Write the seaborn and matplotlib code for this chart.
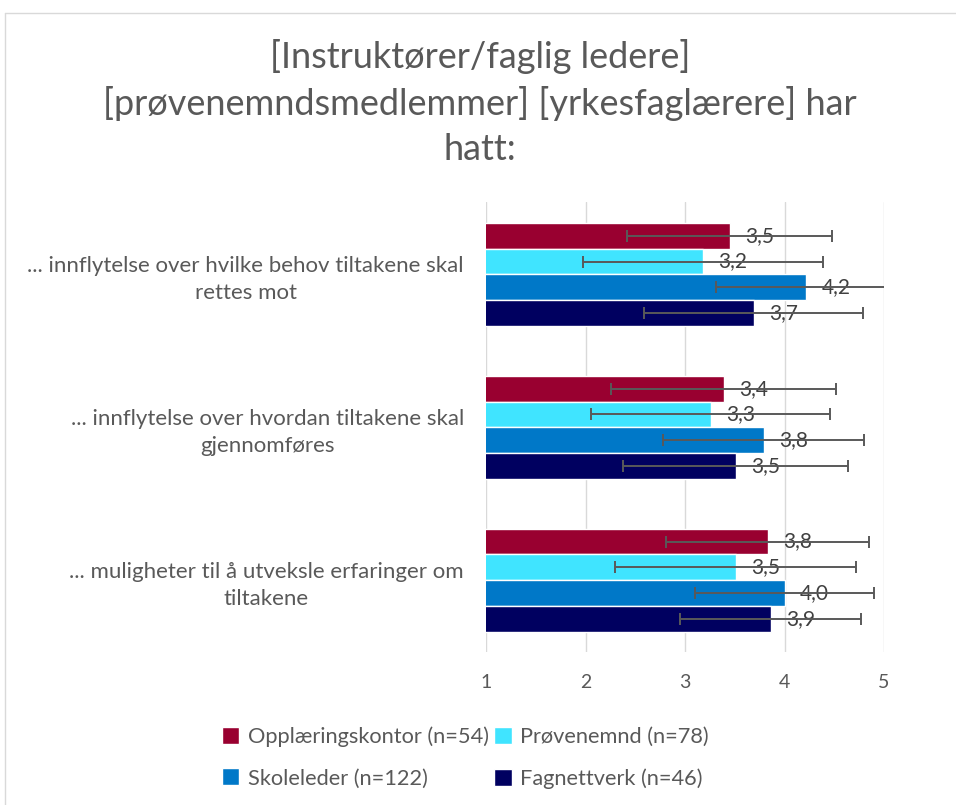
import pandas as pd
import matplotlib.pyplot as plt
import seaborn as sns

categories = ["... innflytelse over hvilke behov tiltakene skal\nrettes mot",
              "... innflytelse over hvordan tiltakene skal\ngjennomføres",
              "... muligheter til å utveksle erfaringer om\ntiltakene"]
groups = ["Opplæringskontor (n=54)", "Prøvenemnd (n=78)",
          "Skoleleder (n=122)", "Fagnettverk (n=46)"]

opplaering = [3.45, 3.39, 3.83]
provenemnd = [3.18, 3.26, 3.51]
skoleleder = [4.22, 3.79, 4.00]
fagnettverk = [3.69, 3.51, 3.86]

opplaering_err = [1.03, 1.13, 1.02]
provenemnd_err = [1.21, 1.20, 1.21]
skoleleder_err = [0.91, 1.01, 0.90]
fagnettverk_err = [1.10, 1.13, 0.91]

colors = ['#990030', '#40E4FF', '#0078C8', '#000060']
means = [opplaering, provenemnd, skoleleder, fagnettverk]
errs = [opplaering_err, provenemnd_err, skoleleder_err, fagnettverk_err]

rows = []
for g, vals in zip(groups, means):
    for c, v in zip(categories, vals):
        rows.append({'kategori': c, 'gruppe': g, 'snitt': v})
df = pd.DataFrame(rows)

sns.set_theme(style='white')
plt.rcParams['font.family'] = ['Lato', 'DejaVu Sans']
grey = '#595959'

fig = plt.figure(figsize=(9.56, 8.05), dpi=100)
ax = fig.add_axes([486 / 956, 1 - 652 / 805, (884 - 486) / 956, (652 - 202.5) / 805])

sns.barplot(data=df, y='kategori', x='snitt', hue='gruppe', orient='h',
            palette=colors, width=0.673, errorbar=None, saturation=1,
            ax=ax, zorder=2)

for cont, err in zip(ax.containers, errs):
    ys = [b.get_y() + b.get_height() / 2 for b in cont]
    xs = [b.get_width() for b in cont]
    ax.bar_label(cont, labels=[f"{v:.1f}".replace('.', ',') for v in xs],
                 padding=11, fontsize=15, color='#404040', zorder=3)
    ax.errorbar(xs, ys, xerr=err, fmt='none', ecolor=grey, elinewidth=1.4,
                capsize=4.3, capthick=1.4, zorder=4)

ax.set_xlim(1, 5)
ax.set_xticks([1, 2, 3, 4, 5])
ax.xaxis.grid(True, color='#d9d9d9', linewidth=1, zorder=0)
ax.set_axisbelow(True)
ax.set_xlabel('')
ax.set_ylabel('')
for s in ax.spines.values():
    s.set_visible(False)
ax.tick_params(axis='x', length=0, pad=16, labelsize=14, labelcolor=grey)
ax.tick_params(axis='y', length=0, pad=16, labelsize=16, labelcolor=grey)
for lab in ax.get_yticklabels():
    lab.set_multialignment('center')
    lab.set_linespacing(1.4)

handles, labels = ax.get_legend_handles_labels()
ax.get_legend().remove()
order = [0, 2, 1, 3]
fig.legend([handles[i] for i in order], [labels[i] for i in order], ncol=2,
           loc='upper left', bbox_to_anchor=(202 / 956, 1 - 707 / 805),
           frameon=False, fontsize=15.7, labelcolor=grey, handlelength=0.8,
           handleheight=0.8, handletextpad=0.4, columnspacing=0.25,
           labelspacing=0.97)

fig.text(0.502, 1 - 39 / 805,
         "[Instruktører/faglig ledere]\n[prøvenemndsmedlemmer] [yrkesfaglærere] har\nhatt:",
         ha='center', va='top', fontsize=26, color=grey,
         linespacing=1.42, transform=fig.transFigure)

fig.add_artist(plt.Line2D([5 / 956, 5 / 956], [0, 1 - 13 / 805], color='#d9d9d9', lw=1))
fig.add_artist(plt.Line2D([5 / 956, 1], [1 - 13 / 805, 1 - 13 / 805], color='#d9d9d9', lw=1))

plt.savefig('out.png', dpi=100)
